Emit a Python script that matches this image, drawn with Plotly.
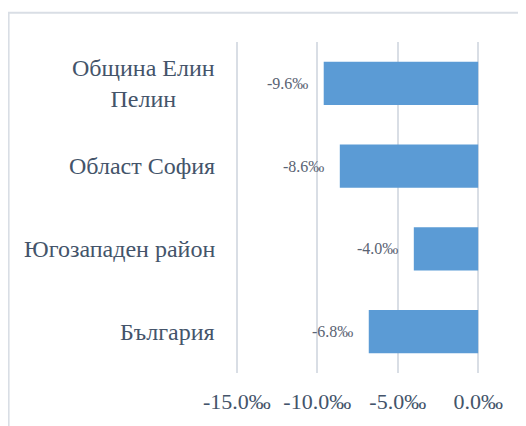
import plotly.graph_objects as go

categories = ["Община Елин<br>Пелин", "Област София", "Югозападен район", "България"]
values = [-9.6, -8.6, -4.0, -6.8]
tick_vals = [-15, -10, -5, 0]
tick_text = ["-15.0‰", "-10.0‰", "-5.0‰", "0.0‰"]
labels = [f"{v:.1f}‰" for v in values]

FONT = "'Liberation Serif', 'Times New Roman', 'DejaVu Serif', serif"
TXT = "#44546A"

fig = go.Figure()
fig.add_trace(go.Bar(
    y=categories, x=values, orientation="h",
    marker=dict(color="#5B9BD5", line=dict(width=0)),
    width=0.52,
))

for c, v, t in zip(categories, values, labels):
    fig.add_annotation(x=0, xref="paper", y=c, yref="y", text=c,
                       xanchor="right", xshift=-15, align="center", showarrow=False,
                       font=dict(family=FONT, size=24, color=TXT))
    fig.add_annotation(x=v, xref="x", y=c, yref="y", text=t,
                       xanchor="right", xshift=-14, showarrow=False,
                       font=dict(family=FONT, size=16, color="#5A6373"))

fig.add_shape(type="rect", xref="paper", yref="paper",
              x0=-0.89, x1=1.3, y0=-0.3, y1=1.088,
              line=dict(color="#D9DEE5", width=2), fillcolor="rgba(0,0,0,0)", layer="below")

fig.update_layout(
    width=518, height=418,
    margin=dict(l=224, r=43, t=34, b=53),
    paper_bgcolor="white", plot_bgcolor="white",
    showlegend=False,
    xaxis=dict(range=[-15.3, 0.3], tickvals=tick_vals, ticktext=tick_text,
               showgrid=True, gridcolor="#D9DEE5", gridwidth=2, zeroline=False,
               showline=False, ticks="", ticklabelstandoff=13,
               tickfont=dict(family=FONT, size=22, color=TXT)),
    yaxis=dict(autorange="reversed", showticklabels=False, showgrid=False,
               zeroline=False, showline=False, ticks=""),
)

fig.write_html("out.html")
